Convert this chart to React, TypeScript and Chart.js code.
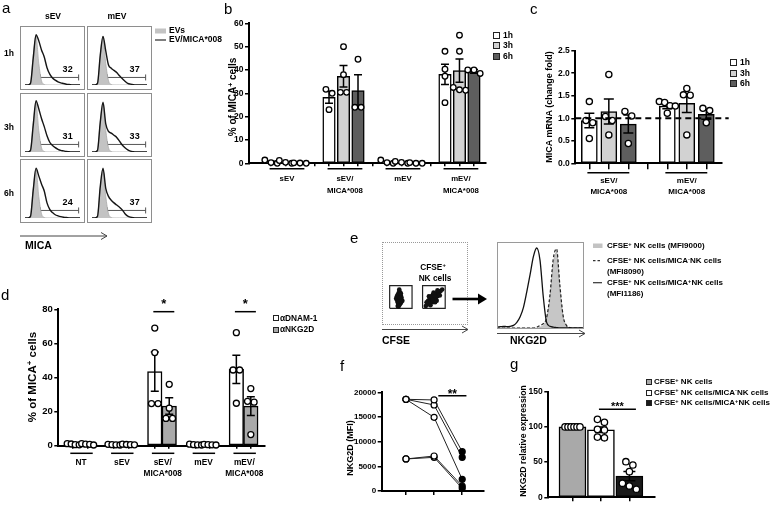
import React, { useEffect, useRef } from 'react';
import { Chart, registerables } from 'chart.js';

Chart.register(...registerables);

const FONT = "'Liberation Sans', Arial, Helvetica, sans-serif";

/* ---------------- a : flow histograms ---------------- */
const aRows = ['1h', '3h', '6h'];
const aCols = ['sEV', 'mEV'];
const aChannels = [0, 1, 2, 3, 4, 5, 6, 7, 8, 9, 10, 11, 12, 13, 14, 15, 16, 17, 18, 19, 20];
const aEVs = [0, 0, 5, 55, 90, 40, 8, 1, 0, 0, 0, 0, 0, 0, 0, 0, 0, 0, 0, 0, 0];
const aSev1h = [0, 0, 3, 50, 93, 82, 65, 52, 32, 20, 13, 9, 6, 4, 2.8, 1.5, 0.8, 0.3, 0, 0, 0];
const aSev3h = [0, 0, 3, 50, 95, 80, 62, 47, 30, 18, 12, 8, 5, 3, 2, 1, 0.5, 0, 0, 0, 0];
const aSev6h = [0, 0, 3, 52, 92, 78, 63, 50, 28, 16, 10, 6, 4, 2.5, 1.5, 0.8, 0.3, 0, 0, 0, 0];
const aMev1h = [0, 0, 3, 55, 90, 63, 37, 31, 27, 23, 17, 12, 7, 3, 1.5, 0.5, 0, 0, 0, 0, 0];
const aMev3h = [0, 0, 3, 55, 92, 52, 38, 35, 31, 27, 20, 13, 8, 4, 1.5, 0.5, 0, 0, 0, 0, 0];
const aMev6h = [0, 0, 3, 58, 92, 55, 40, 33, 28, 24, 20, 15, 8, 3.5, 1.5, 0.5, 0, 0, 0, 0, 0];
const aPercents = [[32, 37], [31, 33], [24, 37]];
const aGateRange = [5.6, 19.5];
const aGateLevel = 14;

/* ---------------- b ---------------- */
const bGroups = ['sEV', 'sEV/\nMICA*008', 'mEV', 'mEV/\nMICA*008'];
const bSeries = ['1h', '3h', '6h'];
const bMean1h = [0.5, 28.3, 0.4, 38.1];
const bMean3h = [0.4, 37.3, 0.3, 39.7];
const bMean6h = [0.1, 31.2, 0.2, 39.4];
const bSem1h = [0.4, 2.6, 0.3, 4.3];
const bSem3h = [0.3, 4.6, 0.3, 5.0];
const bSem6h = [0.1, 6.8, 0.2, 0.8];
const bPts1h = [[1.4, 0, 0.3], [31.7, 30, 23], [0, 0.3, 1.4], [48, 40.3, 37.3, 26]];
const bPts3h = [[0, 0.4, 1.2], [50, 38, 30.4, 30.4], [0.8, 0, 0.4], [54.9, 48, 32.5, 31.5, 31.3]];
const bPts6h = [[0, 0.2, 0.1], [44.6, 24, 24], [0, 0.3, 0], [40, 40, 38.5]];

/* ---------------- c ---------------- */
const cGroups = ['sEV/\nMICA*008', 'mEV/\nMICA*008'];
const cSeries = ['1h', '3h', '6h'];
const cMean1h = [0.95, 1.27];
const cMean3h = [1.15, 1.33];
const cMean6h = [0.87, 1.09];
const cSem1h = [0.16, 0.06];
const cSem3h = [0.28, 0.2];
const cSem6h = [0.2, 0.11];
const cPts1h = [[1.37, 0.95, 0.9, 0.55], [1.37, 1.35, 1.28, 1.27, 1.11]];
const cPts3h = [[1.97, 1.04, 0.95, 0.63], [1.66, 1.52, 1.51, 0.63]];
const cPts6h = [[1.15, 1.05, 0.44], [1.22, 1.17, 0.9]];
const cReference = 1.0;

/* ---------------- d ---------------- */
const dGroups = ['NT', 'sEV', 'sEV/\nMICA*008', 'mEV', 'mEV/\nMICA*008'];
const dSeries = ['αDNAM-1', 'αNKG2D'];
const dMeanDNAM = [0.8, 0.6, 43.5, 0.6, 44.8];
const dMeanNKG2D = [0.8, 0.6, 23.3, 0.5, 23.2];
const dSemDNAM = [0.2, 0.1, 11.5, 0.1, 8.3];
const dSemNKG2D = [0.2, 0.1, 4.8, 0.1, 5.5];
const dPtsDNAM = [[1, 0.5, 1.2, 0.6], [0.5, 0.8, 0.6, 0.4], [69, 54.6, 24.7, 24.7], [0.6, 0.9, 0.5, 0.4], [66.3, 44.4, 44.4, 24.9]];
const dPtsNKG2D = [[0.4, 1.2, 0.8, 0.9], [0.5, 0.7, 0.9, 0.6], [36, 22, 16, 16], [0.6, 0.4, 0.8, 0.5], [33.5, 26, 25.5, 6.5]];
const dSigGroups = [2, 4];
const dSigLevel = 78.6;

/* ---------------- e ---------------- */
const eDotsMinusX = [17, 16, 18, 15, 19, 17, 16, 18, 15, 19, 17, 16, 18, 14, 20, 17, 16, 18, 15, 19, 17, 16, 18, 17, 15, 19, 13, 21, 17, 16, 18, 14, 20, 17, 18, 16];
const eDotsMinusY = [30, 28, 32, 25, 34, 36, 22, 26, 31, 29, 40, 34, 23, 28, 31, 27, 37, 38, 20, 24, 33, 31, 29, 24, 35, 37, 30, 27, 42, 19, 35, 33, 26, 21, 31, 26];
const eDotsPlusX = [58, 60, 62, 56, 64, 59, 61, 57, 63, 55, 65, 58, 62, 60, 60, 54, 66, 57, 63, 59, 61, 56, 64, 53, 67, 58, 62, 60, 52, 68, 70, 72, 66, 51, 55, 65, 69, 61, 57, 63];
const eDotsPlusY = [28, 30, 32, 26, 34, 31, 29, 29, 31, 24, 36, 33, 27, 25, 35, 27, 33, 24, 37, 28, 33, 30, 29, 22, 39, 31, 34, 28, 25, 36, 40, 42, 41, 20, 33, 27, 34, 38, 21, 25];
const eGateLeftX = [4.7, 33.4];
const eGateRightX = [46.9, 75.9];
const eGateY = [16.9, 47.3];
const eChannels = [0, 1, 2, 3, 4, 5, 6, 7, 8, 9, 10, 11, 12, 13, 14, 15, 16, 17, 18, 19, 20, 21, 22, 23, 24, 25, 26];
const eCfse = [0, 0, 0, 0, 0, 0, 0, 0, 0, 0, 0, 0, 0, 1, 3, 11, 34, 74, 88, 46, 13, 3, 0, 0, 0, 0, 0];
const eMicaNeg = [0, 0, 0, 0, 0, 0, 0, 0, 0, 0, 0, 0, 1, 3, 5, 12, 38, 80, 92, 50, 14, 3, 0.5, 0, 0, 0, 0];
const eMicaPos = [1, 1.5, 2, 1.5, 2, 3, 6.5, 13, 24, 42, 62, 83, 93, 79, 36, 6.5, 2, 1, 0.5, 0, 0, 0, 0, 0, 0, 0, 0];

/* ---------------- f ---------------- */
const fTimes = [1, 2, 3];
const fDonor1 = [18580, 18450, 7970];
const fDonor2 = [18580, 17430, 6820];
const fDonor3 = [18580, 14930, 2360];
const fDonor4 = [6490, 7090, 1010];
const fDonor5 = [6490, 6820, 540];
const fSig = [2.15, 3.15, 19300];

/* ---------------- g ---------------- */
const gGroups = ['CFSE⁺ NK cells', 'CFSE⁺ NK cells/MICA⁻NK cells', 'CFSE⁺ NK cells/MICA⁺NK cells'];
const gMean = [100, 96, 30];
const gSem = [0.5, 4, 6.5];
const gPts = [[100, 100, 100, 100, 100, 100], [110.7, 106.5, 96.5, 95.5, 85.5, 84.5], [50.6, 45.9, 36.4, 19.9, 16, 11.4]];
const gSig = [0.93, 2.23, 125];

/* ---------------- helpers ---------------- */
const WHITE = '#ffffff';
const LIGHT = '#d2d2d2';
const DARK = '#5e5e5e';
const MID = '#a9a9a9';
const BLACK = '#1a1a1a';

function axesOptions(p: any) {
  const padding = {
    left: p.plot.l - p.canvas.x - p.yw,
    top: p.plot.t - p.canvas.y,
    right: p.canvas.x + p.canvas.w - p.plot.r,
    bottom: p.canvas.y + p.canvas.h - p.plot.b - p.xh,
  };
  const grid = { display: true, drawOnChartArea: false, drawTicks: true, tickLength: p.tickLen || 4, color: '#000', lineWidth: 1.5, offset: false };
  const border = { display: true, color: '#000', width: 2 };
  return {
    responsive: false,
    maintainAspectRatio: false,
    animation: false,
    events: [],
    layout: { padding },
    plugins: { legend: { display: false }, tooltip: { enabled: false } },
    scales: {
      x: {
        type: 'linear', min: p.xMin, max: p.xMax, offset: false,
        grid: { ...grid, tickLength: p.xTickLen || 4 }, border,
        ticks: { display: false },
        afterBuildTicks: (s: any) => { s.ticks = p.xTicks.map((v: number) => ({ value: v })); },
        afterFit: (s: any) => { s.height = p.xh; },
      },
      y: {
        type: 'linear', min: p.yMin, max: p.yMax,
        grid, border,
        ticks: {
          stepSize: p.yStep, color: '#000', padding: 1.5,
          font: { family: FONT, weight: 'bold', size: p.tickFont },
          callback: (v: any) => (p.yFormat ? p.yFormat(Number(v)) : String(v)),
        },
        afterFit: (s: any) => { s.width = p.yw; },
      },
    },
  };
}

function drawSig(ctx: any, chart: any, sig: any[], font: number) {
  const { x, y } = chart.scales;
  ctx.save();
  ctx.strokeStyle = '#000';
  ctx.fillStyle = '#000';
  ctx.lineWidth = 1.5;
  ctx.font = `bold ${font}px ${FONT}`;
  ctx.textAlign = 'center';
  ctx.textBaseline = 'alphabetic';
  sig.forEach((s) => {
    const x1 = x.getPixelForValue(s.x1);
    const x2 = x.getPixelForValue(s.x2);
    const yy = y.getPixelForValue(s.y);
    ctx.beginPath();
    ctx.moveTo(x1, yy);
    ctx.lineTo(x2, yy);
    ctx.stroke();
    ctx.fillText(s.text, (x1 + x2) / 2, yy + s.dy);
  });
  ctx.restore();
}

function dotBarConfig(p: any, bars: any[], o: any) {
  const pxX = (p.plot.r - p.plot.l) / (p.xMax - p.xMin);
  const pxY = (p.plot.b - p.plot.t) / (p.yMax - p.yMin);
  const pts: any[] = [];
  bars.forEach((b) => {
    const order = b.pts.map((_: number, i: number) => i).sort((i: number, j: number) => b.pts[j] - b.pts[i]);
    const clusters: number[][] = [];
    let cur: number[] = [];
    order.forEach((i: number) => {
      if (cur.length && Math.abs(b.pts[cur[cur.length - 1]] - b.pts[i]) * pxY >= o.r * 2) {
        clusters.push(cur);
        cur = [];
      }
      cur.push(i);
    });
    if (cur.length) clusters.push(cur);
    clusters.forEach((c) => {
      const n = c.length;
      const step = n > 1 ? Math.min(o.r * 2 + 0.6, o.maxSpread / (n - 1)) : 0;
      c.forEach((i, k) => pts.push({ x: b.x + ((k - (n - 1) / 2) * step) / pxX, y: b.pts[i] }));
    });
  });

  const deco = {
    id: 'deco',
    afterDatasetDraw(chart: any, args: any) {
      if (args.meta.type !== 'bar') return;
      const { ctx } = chart;
      const { x, y } = chart.scales;
      ctx.save();
      ctx.strokeStyle = '#000';
      ctx.lineWidth = 1.5;
      bars.forEach((b) => {
        if (b.sem <= 0) return;
        const px = x.getPixelForValue(b.x);
        const top = y.getPixelForValue(b.mean + b.sem);
        const bot = y.getPixelForValue(Math.max(p.yMin, b.mean - b.sem));
        if (bot - top < 1.5) return;
        ctx.beginPath();
        ctx.moveTo(px, top);
        ctx.lineTo(px, bot);
        ctx.moveTo(px - o.capW / 2, top);
        ctx.lineTo(px + o.capW / 2, top);
        ctx.moveTo(px - o.capW / 2, bot);
        ctx.lineTo(px + o.capW / 2, bot);
        ctx.stroke();
      });
      ctx.restore();
    },
    afterDraw(chart: any) {
      const { ctx, chartArea } = chart;
      const { x, y } = chart.scales;
      ctx.save();
      if (o.refY !== undefined) {
        ctx.strokeStyle = '#000';
        ctx.lineWidth = 1.8;
        ctx.setLineDash([6, 4]);
        const yy = y.getPixelForValue(o.refY);
        ctx.beginPath();
        ctx.moveTo(chartArea.left, yy);
        ctx.lineTo(chartArea.right + (o.refExtend || 0), yy);
        ctx.stroke();
        ctx.setLineDash([]);
      }
      ctx.font = `bold ${o.labelFont}px ${FONT}`;
      ctx.textAlign = 'center';
      ctx.textBaseline = 'alphabetic';
      ctx.fillStyle = '#000';
      ctx.strokeStyle = '#000';
      ctx.lineWidth = 1.5;
      o.groups.forEach((g: any) => {
        const x1 = x.getPixelForValue(g.x1);
        const x2 = x.getPixelForValue(g.x2);
        const uy = chartArea.bottom + o.underDy;
        ctx.beginPath();
        ctx.moveTo(x1, uy);
        ctx.lineTo(x2, uy);
        ctx.stroke();
        const cx = x.getPixelForValue(g.cx);
        g.lines.forEach((t: string, i: number) => ctx.fillText(t, cx, chartArea.bottom + o.line1Dy + i * o.lineGap));
      });
      ctx.restore();
      if (o.sig) drawSig(ctx, chart, o.sig, o.sigFont);
    },
  };

  return {
    type: 'bar',
    data: {
      datasets: [
        {
          type: 'scatter',
          data: pts,
          pointRadius: o.r,
          pointBackgroundColor: '#fff',
          pointBorderColor: '#000',
          pointBorderWidth: 1.3,
          showLine: false,
          clip: false,
          order: 0,
        },
        {
          type: 'bar',
          data: bars.map((b) => ({ x: b.x, y: b.mean })),
          backgroundColor: bars.map((b) => b.color),
          borderColor: '#000',
          borderWidth: 1.5,
          borderSkipped: false,
          barThickness: o.barW,
          order: 1,
        },
      ],
    },
    options: axesOptions(p),
    plugins: [deco],
  };
}

/* ---------------- panel specs ---------------- */
function makeB() {
  const means = [bMean1h, bMean3h, bMean6h];
  const sems = [bSem1h, bSem3h, bSem6h];
  const pts = [bPts1h, bPts3h, bPts6h];
  const colors = [WHITE, LIGHT, DARK];
  const bars: any[] = [];
  bGroups.forEach((_, gi) => bSeries.forEach((__, k) => bars.push({ x: 4 * gi + k, mean: means[k][gi], sem: sems[k][gi], pts: pts[k][gi], color: colors[k] })));
  const groups = bGroups.map((g, gi) => ({ x1: 4 * gi - 0.1, x2: 4 * gi + 2.3, cx: 4 * gi + 1.1, lines: g.split('\n') }));
  const p = {
    canvas: { x: 200, y: 13, w: 292, h: 190 }, plot: { l: 249, t: 23.3, r: 486, b: 163.3 },
    yw: 49, xh: 6, xMin: -1.52, xMax: 14.83, yMin: 0, yMax: 60, yStep: 10, tickFont: 8.5,
    xTicks: [0, 1, 2, 3, 4, 5, 6, 7, 8, 9, 10, 11, 12, 13, 14], xTickLen: 3,
  };
  return { p, cfg: dotBarConfig(p, bars, { r: 2.8, barW: 12.5, capW: 8, maxSpread: 13, groups, labelFont: 7.8, underDy: 5.5, line1Dy: 18, lineGap: 11.5 }) };
}

function makeC() {
  const means = [cMean1h, cMean3h, cMean6h];
  const sems = [cSem1h, cSem3h, cSem6h];
  const pts = [cPts1h, cPts3h, cPts6h];
  const colors = [WHITE, LIGHT, DARK];
  const bars: any[] = [];
  cGroups.forEach((_, gi) => cSeries.forEach((__, k) => bars.push({ x: 4 * gi + k, mean: means[k][gi], sem: sems[k][gi], pts: pts[k][gi], color: colors[k] })));
  const groups = cGroups.map((g, gi) => ({ x1: 4 * gi - 0.1, x2: 4 * gi + 2.05, cx: 4 * gi + 1, lines: g.split('\n') }));
  const p = {
    canvas: { x: 540, y: 40, w: 235, h: 160 }, plot: { l: 575.3, t: 50.7, r: 721.7, b: 163.3 },
    yw: 35.3, xh: 7, xMin: -0.72, xMax: 6.79, yMin: 0, yMax: 2.5, yStep: 0.5, tickFont: 8.5,
    yFormat: (v: number) => v.toFixed(1), xTicks: [0, 1, 2, 3, 4, 5, 6], xTickLen: 6,
  };
  return { p, cfg: dotBarConfig(p, bars, { r: 3.1, barW: 16, capW: 10, maxSpread: 16, groups, labelFont: 8, underDy: 9.4, line1Dy: 19.4, lineGap: 11.3, refY: cReference, refExtend: 7 }) };
}

const D_STRIDE = 2.82;
function makeD() {
  const means = [dMeanDNAM, dMeanNKG2D];
  const sems = [dSemDNAM, dSemNKG2D];
  const pts = [dPtsDNAM, dPtsNKG2D];
  const colors = [WHITE, MID];
  const bars: any[] = [];
  dGroups.forEach((_, gi) => dSeries.forEach((__, k) => bars.push({ x: gi * D_STRIDE + k, mean: means[k][gi], sem: sems[k][gi], pts: pts[k][gi], color: colors[k] })));
  const groups = dGroups.map((g, gi) => ({ x1: gi * D_STRIDE - 0.2, x2: gi * D_STRIDE + 1.35, cx: gi * D_STRIDE + 0.55, lines: g.split('\n') }));
  const sig = dSigGroups.map((gi) => ({ x1: gi * D_STRIDE - 0.1, x2: gi * D_STRIDE + 1.35, y: dSigLevel, text: '*', dy: -3.5 }));
  const ticks: number[] = [];
  dGroups.forEach((_, gi) => { ticks.push(gi * D_STRIDE, gi * D_STRIDE + 1); });
  const p = {
    canvas: { x: 10, y: 290, w: 260, h: 195 }, plot: { l: 58.3, t: 309.3, r: 265, b: 445.7 },
    yw: 48.3, xh: 6, xMin: -1.03, xMax: 13.24, yMin: 0, yMax: 80, yStep: 20, tickFont: 9.5,
    xTicks: ticks, xTickLen: 3,
  };
  return { p, cfg: dotBarConfig(p, bars, { r: 3, barW: 14.5, capW: 8, maxSpread: 12, groups, labelFont: 8.3, underDy: 7.6, line1Dy: 19.6, lineGap: 10.7, sig, sigFont: 13 }) };
}

function makeG() {
  const colors = [MID, WHITE, BLACK];
  const bars = gGroups.map((_, k) => ({ x: k, mean: gMean[k], sem: gSem[k], pts: gPts[k], color: colors[k] }));
  const p = {
    canvas: { x: 505, y: 378, w: 155, h: 129 }, plot: { l: 548.3, t: 391.7, r: 655, b: 497.3 },
    yw: 43.3, xh: 5, xMin: -0.85, xMax: 2.89, yMin: 0, yMax: 150, yStep: 50, tickFont: 8.5,
    xTicks: [0, 1, 2], xTickLen: 4,
  };
  const sig = [{ x1: gSig[0], x2: gSig[1], y: gSig[2], text: '***', dy: 0.5 }];
  return { p, cfg: dotBarConfig(p, bars, { r: 3.2, barW: 27, capW: 12, maxSpread: 15, groups: [], labelFont: 8, underDy: 0, line1Dy: 0, lineGap: 0, sig, sigFont: 11 }) };
}

function makeF() {
  const p = {
    canvas: { x: 340, y: 380, w: 150, h: 125 }, plot: { l: 381.7, t: 392.3, r: 483.3, b: 491 },
    yw: 41.7, xh: 5, xMin: 0.137, xMax: 3.75, yMin: 0, yMax: 20000, yStep: 5000, tickFont: 8,
    xTicks: fTimes, xTickLen: 4,
  };
  const donors = [fDonor1, fDonor2, fDonor3, fDonor4, fDonor5];
  const sig = [{ x1: fSig[0], x2: fSig[1], y: fSig[2], text: '**', dy: 2 }];
  const cfg = {
    type: 'line',
    data: {
      datasets: donors.map((d) => ({
        data: fTimes.map((t, i) => ({ x: t, y: d[i] })),
        borderColor: '#222',
        borderWidth: 1,
        pointRadius: 3,
        pointBorderWidth: 1.2,
        pointBorderColor: '#000',
        pointBackgroundColor: ['#fff', '#fff', '#000'],
        clip: false,
        tension: 0,
      })),
    },
    options: axesOptions(p),
    plugins: [{ id: 'fsig', afterDraw: (chart: any) => drawSig(chart.ctx, chart, sig, 12) }],
  };
  return { p, cfg };
}

function histConfig(fill: number[], line: number[], pct: number) {
  return {
    type: 'line',
    data: {
      datasets: [
        {
          data: aChannels.map((c, i) => ({ x: c, y: line[i] })),
          borderColor: '#151515', borderWidth: 1.4, pointRadius: 0, fill: false,
          cubicInterpolationMode: 'monotone',
        },
        {
          data: aChannels.map((c, i) => ({ x: c, y: fill[i] })),
          borderColor: '#a8a8a8', borderWidth: 0.8, pointRadius: 0, fill: 'origin',
          backgroundColor: '#c3c3c3', cubicInterpolationMode: 'monotone',
        },
        {
          data: aGateRange.map((g) => ({ x: g, y: aGateLevel })),
          borderColor: '#555', borderWidth: 1, pointStyle: 'line', pointRotation: 90,
          pointRadius: 3, pointBorderColor: '#555', pointBorderWidth: 1,
        },
      ],
    },
    options: {
      responsive: false, animation: false, events: [],
      layout: { padding: 0 },
      plugins: { legend: { display: false }, tooltip: { enabled: false } },
      scales: {
        x: { type: 'linear', min: 0, max: 20, display: false },
        y: { type: 'linear', min: 0, max: 100, display: false },
      },
    },
    plugins: [{
      id: 'pct',
      afterDraw(chart: any) {
        const { ctx } = chart;
        const { x, y } = chart.scales;
        ctx.save();
        ctx.font = `bold 9px ${FONT}`;
        ctx.fillStyle = '#000';
        ctx.textAlign = 'center';
        ctx.fillText(String(pct), x.getPixelForValue(15.5), y.getPixelForValue(25));
        ctx.restore();
      },
    }],
  };
}

function dotPlotConfig() {
  const rect = (xs: number[]) => [
    { x: xs[0], y: eGateY[0] }, { x: xs[1], y: eGateY[0] }, { x: xs[1], y: eGateY[1] },
    { x: xs[0], y: eGateY[1] }, { x: xs[0], y: eGateY[0] },
  ];
  return {
    type: 'scatter',
    data: {
      datasets: [
        { data: eDotsMinusX.map((v, i) => ({ x: v, y: eDotsMinusY[i] })), pointRadius: 2.3, pointBackgroundColor: '#111', pointBorderWidth: 0 },
        { data: eDotsPlusX.map((v, i) => ({ x: v, y: eDotsPlusY[i] })), pointRadius: 2.3, pointBackgroundColor: '#111', pointBorderWidth: 0 },
        { type: 'line', data: rect(eGateLeftX), borderColor: '#222', borderWidth: 1.2, pointRadius: 0 },
        { type: 'line', data: rect(eGateRightX), borderColor: '#222', borderWidth: 1.2, pointRadius: 0 },
      ],
    },
    options: {
      responsive: false, animation: false, events: [],
      layout: { padding: 0 },
      plugins: { legend: { display: false }, tooltip: { enabled: false } },
      scales: { x: { type: 'linear', min: 0, max: 100, display: false }, y: { type: 'linear', min: 0, max: 100, display: false } },
    },
  };
}

function eHistConfig() {
  return {
    type: 'line',
    data: {
      datasets: [
        { data: eChannels.map((c, i) => ({ x: c, y: eMicaPos[i] })), borderColor: '#111', borderWidth: 1.3, pointRadius: 0, fill: false, cubicInterpolationMode: 'monotone' },
        { data: eChannels.map((c, i) => ({ x: c, y: eMicaNeg[i] })), borderColor: '#222', borderWidth: 1.2, borderDash: [3, 2], pointRadius: 0, fill: false, cubicInterpolationMode: 'monotone' },
        { data: eChannels.map((c, i) => ({ x: c, y: eCfse[i] })), borderColor: '#b0b0b0', borderWidth: 0.8, pointRadius: 0, fill: 'origin', backgroundColor: '#c6c6c6', cubicInterpolationMode: 'monotone' },
      ],
    },
    options: {
      responsive: false, animation: false, events: [],
      layout: { padding: 0 },
      plugins: { legend: { display: false }, tooltip: { enabled: false } },
      scales: { x: { type: 'linear', min: 0, max: 26, display: false }, y: { type: 'linear', min: 0, max: 100, display: false } },
    },
  };
}

/* ---------------- components ---------------- */
function ChartBox({ x, y, w, h, make }: any) {
  const ref = useRef<HTMLCanvasElement>(null);
  useEffect(() => {
    const chart = new Chart(ref.current as any, make());
    return () => chart.destroy();
  }, []);
  return <canvas ref={ref} width={w} height={h} style={{ position: 'absolute', left: x, top: y, width: w, height: h }} />;
}

function AxisChart({ make }: any) {
  const built = make();
  const c = built.p.canvas;
  return <ChartBox x={c.x} y={c.y} w={c.w} h={c.h} make={() => make().cfg} />;
}

const T = ({ x, y, s = 9, w = 700, a = 'left', children }: any) => {
  const tx = a === 'center' ? 'translateX(-50%)' : a === 'right' ? 'translateX(-100%)' : 'none';
  return (
    <div style={{ position: 'absolute', left: x, top: y - 0.8465 * s, fontSize: s, lineHeight: `${s}px`, height: s, fontWeight: w, fontFamily: FONT, whiteSpace: 'nowrap', transform: tx, color: '#000' }}>
      {children}
    </div>
  );
};
const RT = ({ cx, cy, s = 9, children }: any) => (
  <div style={{ position: 'absolute', left: cx, top: cy, fontSize: s, lineHeight: `${s}px`, fontWeight: 700, fontFamily: FONT, whiteSpace: 'nowrap', transform: 'translate(-50%,-50%) rotate(-90deg)', color: '#000' }}>
    {children}
  </div>
);
const Sup = ({ children }: any) => <span style={{ fontSize: '0.7em', position: 'relative', top: '-0.45em' }}>{children}</span>;
const Sq = ({ x, y, s = 7, c }: any) => (
  <div style={{ position: 'absolute', left: x, top: y, width: s, height: s, boxSizing: 'border-box', border: '1px solid #222', background: c }} />
);
const Frame = ({ x, y, w, h, style = 'solid', color = '#8e8e8e' }: any) => (
  <div style={{ position: 'absolute', left: x, top: y, width: w, height: h, boxSizing: 'border-box', border: `1px ${style} ${color}` }} />
);

const aColX = [20, 87];
const aRowY = [26, 93, 159];

export default function App() {
  const aCurves = [[aSev1h, aMev1h], [aSev3h, aMev3h], [aSev6h, aMev6h]];
  return (
    <div style={{ position: 'absolute', left: 0, top: 0, width: 780, height: 507, background: '#fff', overflow: 'hidden' }}>
      {/* panel a */}
      {aRows.map((r, ri) => aCols.map((c, ci) => (
        <ChartBox key={`${r}${c}`} x={aColX[ci]} y={aRowY[ri]} w={65} h={64} make={() => histConfig(aEVs, aCurves[ri][ci], aPercents[ri][ci])} />
      )))}
      {aRows.map((r, ri) => aCols.map((c, ci) => (
        <Frame key={`f${r}${c}`} x={aColX[ci]} y={aRowY[ri]} w={65} h={64} />
      )))}

      {/* panel e dot plot + hist */}
      <ChartBox x={382} y={242} w={86} h={83} make={dotPlotConfig} />
      <Frame x={382} y={242} w={86} h={83} style="dotted" color="#999" />
      <ChartBox x={497} y={242} w={86} h={86} make={eHistConfig} />
      <Frame x={497} y={242} w={87} h={87} color="#9a9a9a" />

      {/* axis charts */}
      <AxisChart make={makeB} />
      <AxisChart make={makeC} />
      <AxisChart make={makeD} />
      <AxisChart make={makeF} />
      <AxisChart make={makeG} />

      <svg width={780} height={507} style={{ position: 'absolute', left: 0, top: 0, pointerEvents: 'none' }}>
        {/* a arrow */}
        <line x1={20} y1={236} x2={107} y2={236} stroke="#444" strokeWidth={1} />
        <polyline points="101,232.5 107,236 101,239.5" fill="none" stroke="#444" strokeWidth={1} />
        {/* a legend */}
        <rect x={155} y={28.5} width={11} height={5} fill="#c3c3c3" />
        <line x1={155} y1={40} x2={166} y2={40} stroke="#555" strokeWidth={1.5} />
        {/* e arrows */}
        <line x1={382} y1={329.5} x2={468} y2={329.5} stroke="#444" strokeWidth={1} />
        <polyline points="462,326 468,329.5 462,333" fill="none" stroke="#444" strokeWidth={1} />
        <line x1={497} y1={333.5} x2={585} y2={333.5} stroke="#444" strokeWidth={1} />
        <polyline points="579,330 585,333.5 579,337" fill="none" stroke="#444" strokeWidth={1} />
        <line x1={452.5} y1={299} x2={480} y2={299} stroke="#000" strokeWidth={2.6} />
        <polygon points="478,293.5 487,299 478,304.5" fill="#000" />
        {/* e legend */}
        <rect x={593} y={243.5} width={9.5} height={4.5} fill="#c3c3c3" />
        <line x1={593} y1={260.7} x2={602} y2={260.7} stroke="#333" strokeWidth={1.2} strokeDasharray="2.5 2" />
        <line x1={593} y1={282.7} x2={602} y2={282.7} stroke="#333" strokeWidth={1.2} />
      </svg>

      {/* panel letters */}
      <T x={2} y={13} s={15} w={400}>a</T>
      <T x={224} y={14} s={15} w={400}>b</T>
      <T x={530} y={13.3} s={15} w={400}>c</T>
      <T x={1} y={300} s={15} w={400}>d</T>
      <T x={350} y={243} s={15} w={400}>e</T>
      <T x={340} y={371} s={15} w={400}>f</T>
      <T x={510} y={369} s={15} w={400}>g</T>

      {/* panel a labels */}
      <T x={53} y={19.5} s={8.5} a="center">{aCols[0]}</T>
      <T x={117} y={19.5} s={8.5} a="center">{aCols[1]}</T>
      <T x={4} y={56.5} s={8.5}>{aRows[0]}</T>
      <T x={4} y={130.5} s={8.5}>{aRows[1]}</T>
      <T x={4} y={196} s={8.5}>{aRows[2]}</T>
      <T x={25} y={249} s={10.5}>MICA</T>
      <T x={169} y={33.3} s={8.5}>EVs</T>
      <T x={169} y={42} s={8.5}>EV/MICA*008</T>

      {/* panel b */}
      <RT cx={232.5} cy={96.7} s={10}>% of MICA<Sup>+</Sup> cells</RT>
      <Sq x={493} y={32} c={WHITE} />
      <Sq x={493} y={42} c={LIGHT} />
      <Sq x={493} y={52.5} c={DARK} />
      <T x={503} y={38.3} s={8.5}>{bSeries[0]}</T>
      <T x={503} y={48.3} s={8.5}>{bSeries[1]}</T>
      <T x={503} y={58.8} s={8.5}>{bSeries[2]}</T>

      {/* panel c */}
      <RT cx={548.5} cy={106.7} s={9}>MICA mRNA (change fold)</RT>
      <Sq x={730} y={59} c={WHITE} />
      <Sq x={730} y={69.5} c={LIGHT} />
      <Sq x={730} y={80} c={DARK} />
      <T x={740} y={65.3} s={8.5}>{cSeries[0]}</T>
      <T x={740} y={75.8} s={8.5}>{cSeries[1]}</T>
      <T x={740} y={86.3} s={8.5}>{cSeries[2]}</T>

      {/* panel d */}
      <RT cx={32.5} cy={376.7} s={11.5}>% of MICA<Sup>+</Sup> cells</RT>
      <Sq x={272.5} y={315} s={6} c={WHITE} />
      <Sq x={272.5} y={326.5} s={6} c={MID} />
      <T x={280} y={321} s={8.3}>{dSeries[0]}</T>
      <T x={280} y={332.3} s={8.3}>{dSeries[1]}</T>

      {/* panel e */}
      <T x={433} y={270} s={8.3} a="center">CFSE<Sup>+</Sup></T>
      <T x={435} y={281} s={8.3} a="center">NK cells</T>
      <T x={382} y={344} s={10.5}>CFSE</T>
      <T x={510} y={344} s={10.5}>NKG2D</T>
      <T x={607} y={249} s={8}>CFSE<Sup>+</Sup> NK cells (MFI9000)</T>
      <T x={607} y={264} s={8}>CFSE<Sup>+</Sup> NK cells/MICA<Sup>-</Sup>NK cells</T>
      <T x={607} y={274.7} s={8}>(MFI8090)</T>
      <T x={607} y={286} s={8}>CFSE<Sup>+</Sup> NK cells/MICA<Sup>+</Sup>NK cells</T>
      <T x={607} y={297} s={8}>(MFI1186)</T>

      {/* panel f */}
      <RT cx={350} cy={448} s={9}>NKG2D (MFI)</RT>

      {/* panel g */}
      <RT cx={523} cy={441} s={8.7}>NKG2D relative expression</RT>
      <Sq x={646} y={379} s={6} c={MID} />
      <Sq x={646} y={389.5} s={6} c={WHITE} />
      <Sq x={646} y={400} s={6} c={BLACK} />
      <T x={654} y={385} s={8}>CFSE<Sup>+</Sup> NK cells</T>
      <T x={654} y={395.5} s={8}>CFSE<Sup>+</Sup> NK cells/MICA<Sup>-</Sup>NK cells</T>
      <T x={654} y={406} s={8}>CFSE<Sup>+</Sup> NK cells/MICA<Sup>+</Sup>NK cells</T>
    </div>
  );
}
